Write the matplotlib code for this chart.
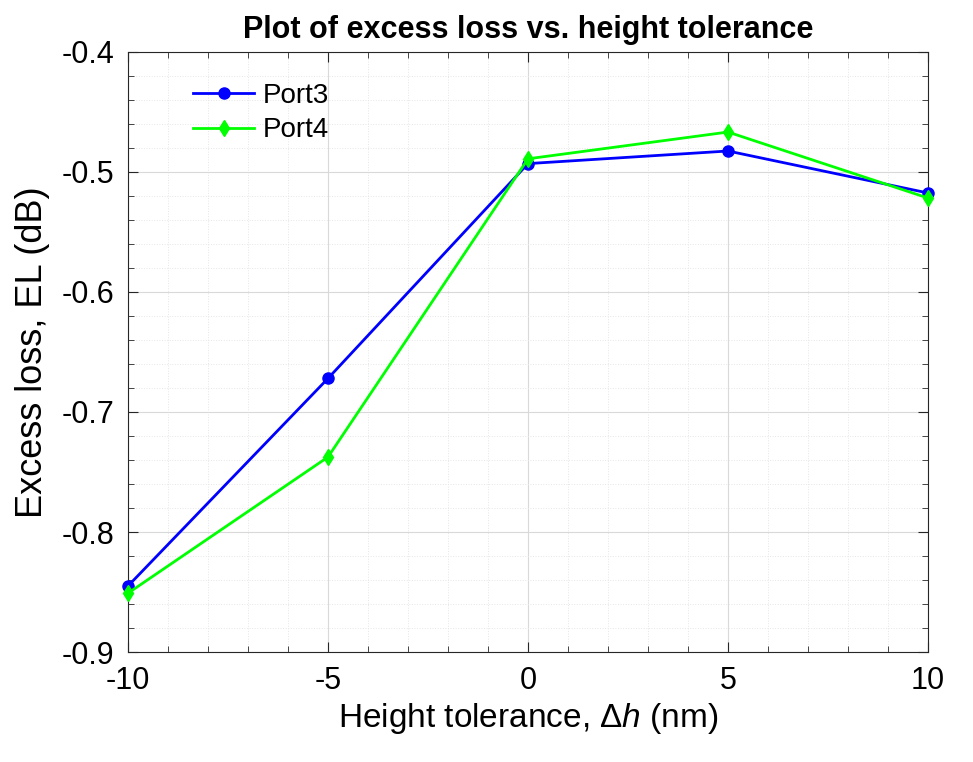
import matplotlib
matplotlib.use("Agg")
import matplotlib.pyplot as plt
from matplotlib.ticker import MultipleLocator

x = [-10, -5, 0, 5, 10]
port3 = [-0.845, -0.672, -0.493, -0.4825, -0.5175]
port4 = [-0.851, -0.7375, -0.489, -0.4667, -0.5217]
xticklabels = ['-10', '-5', '0', '5', '10']
yticks = [-0.9, -0.8, -0.7, -0.6, -0.5, -0.4]
yticklabels = ['-0.9', '-0.8', '-0.7', '-0.6', '-0.5', '-0.4']

plt.rcParams['font.family'] = ['Liberation Sans', 'DejaVu Sans']
plt.rcParams['mathtext.fontset'] = 'custom'
plt.rcParams['mathtext.it'] = 'Liberation Sans:italic'
plt.rcParams['mathtext.rm'] = 'Liberation Sans'
fig = plt.figure(figsize=(9.73, 7.62), dpi=100)
ax = fig.add_axes([128/973, 1-652/762, 800/973, 600/762])
ax.plot(x, port3, '-o', color='#0000FF', lw=2, ms=8, label='Port3', clip_on=False, zorder=3)
ax.plot(x, port4, '-d', color='#00FF00', lw=2, ms=8, label='Port4', clip_on=False, zorder=3)
ax.set_xlim(-10, 10)
ax.set_ylim(-0.9, -0.4)
ax.set_xticks(x)
ax.set_xticklabels(xticklabels)
ax.set_yticks(yticks)
ax.set_yticklabels(yticklabels)
ax.xaxis.set_minor_locator(MultipleLocator(1))
ax.yaxis.set_minor_locator(MultipleLocator(0.02))
ax.grid(which='major', color='#d9d9d9', lw=0.8)
ax.grid(which='minor', color='#e6e6e6', lw=0.7, ls=':')
ax.tick_params(which='both', direction='in', top=True, right=True, labelsize=22, color='#262626', pad=10)
ax.tick_params(which='major', length=7)
ax.tick_params(which='minor', length=4)
for s in ax.spines.values():
    s.set_color('#262626')
ax.set_xlabel(r'Height tolerance, $\Delta h$ (nm)', fontsize=24, labelpad=4)
ax.set_ylabel('Excess loss, EL (dB)', fontsize=26, labelpad=8)
ax.set_title('Plot of excess loss vs. height tolerance', fontsize=22, fontweight='bold', pad=10)
ax.legend(loc='upper left', fontsize=20, frameon=False, bbox_to_anchor=(0.05, 0.99),
          handlelength=2.2, handletextpad=0.3, labelspacing=0.3)
fig.savefig('out.png', dpi=100)
